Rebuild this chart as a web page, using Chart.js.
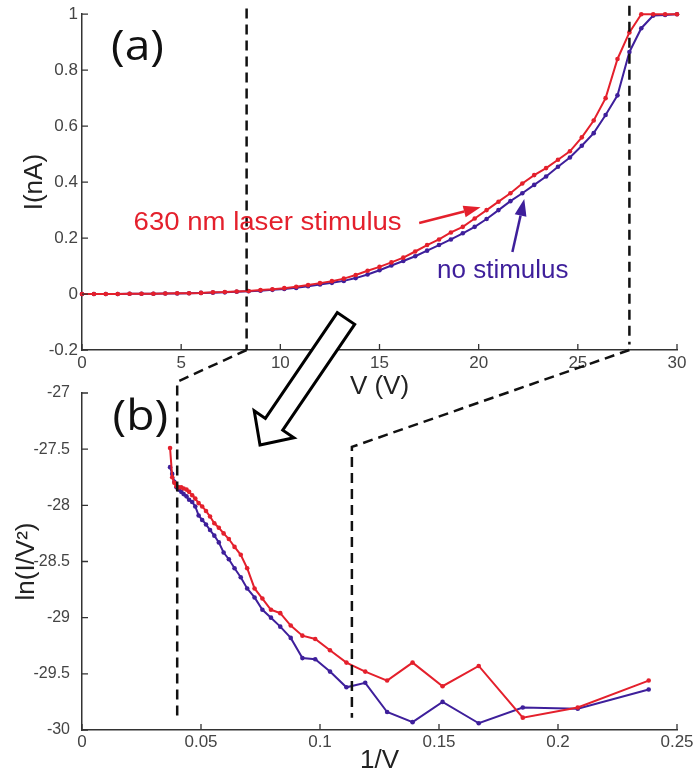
<!DOCTYPE html>
<html>
<head>
<meta charset="utf-8">
<script src="https://cdn.jsdelivr.net/npm/chart.js@4.4.1/dist/chart.umd.min.js"></script>
<style>
  body { margin: 0; background: #fff; }
  #wrap { position: relative; width: 696px; height: 776px; }
  #wrap canvas { position: absolute; left: 0; top: 0; }
</style>
</head>
<body>
<div id="wrap">
  <canvas id="chartA" width="696" height="776"></canvas>
  <canvas id="chartB" width="696" height="776"></canvas>
</div>
<script>
// panel (a): I-V curves
var voltA = [0, 0.6, 1.2, 1.8, 2.4, 3, 3.6, 4.2, 4.8, 5.4, 6, 6.6, 7.2, 7.8, 8.4, 9, 9.6, 10.2, 10.8, 11.4,
    12, 12.6, 13.2, 13.8, 14.4, 15, 15.6, 16.2, 16.8, 17.4, 18, 18.6, 19.2, 19.8, 20.4, 21, 21.6, 22.2, 22.8,
    23.4, 24, 24.6, 25.2, 25.8, 26.4, 27, 27.6, 28.2, 28.8, 29.4, 30];
var laserA = [0, 0, 0, 0, 0.001, 0.001, 0.001, 0.002, 0.003, 0.003, 0.004, 0.006, 0.007, 0.009, 0.011, 0.014,
    0.017, 0.021, 0.026, 0.032, 0.039, 0.046, 0.055, 0.068, 0.083, 0.097, 0.113, 0.130, 0.152, 0.175, 0.195,
    0.220, 0.240, 0.270, 0.300, 0.330, 0.360, 0.395, 0.425, 0.450, 0.480, 0.510, 0.560, 0.620, 0.700, 0.840,
    0.935, 1.000, 1.000, 1.000, 1.000];
var noStimA = [0, 0, 0, 0, 0.001, 0.001, 0.001, 0.002, 0.002, 0.003, 0.004, 0.005, 0.006, 0.008, 0.010, 0.012,
    0.015, 0.018, 0.022, 0.028, 0.034, 0.040, 0.047, 0.057, 0.070, 0.085, 0.102, 0.118, 0.135, 0.155, 0.175,
    0.195, 0.217, 0.240, 0.268, 0.300, 0.332, 0.360, 0.390, 0.420, 0.455, 0.488, 0.530, 0.575, 0.640, 0.710,
    0.865, 0.950, 0.995, 0.997, 1.000];

// panel (b): ln(I/V^2) against 1/V
var invVB = [0.0370, 0.0379, 0.0388, 0.0397, 0.0407, 0.0417, 0.0427, 0.0439, 0.0450, 0.0463, 0.0476, 0.0490,
    0.0505, 0.0521, 0.0538, 0.0556, 0.0575, 0.0595, 0.0617, 0.0641, 0.0667, 0.0694, 0.0725, 0.0758, 0.0794,
    0.0833, 0.0877, 0.0926, 0.0980, 0.1042, 0.1111, 0.1190, 0.1282, 0.1389, 0.1515, 0.1667, 0.1852, 0.2083, 0.2381];
var laserB = [-27.49, -27.75, -27.80, -27.83, -27.84, -27.84, -27.85, -27.86, -27.88, -27.91, -27.94, -27.98,
    -28.01, -28.05, -28.10, -28.16, -28.20, -28.25, -28.30, -28.37, -28.44, -28.56, -28.74, -28.83, -28.93,
    -28.96, -29.07, -29.16, -29.19, -29.29, -29.40, -29.48, -29.56, -29.40, -29.61, -29.43, -29.89, -29.80, -29.56];
var noStimB = [-27.66, -27.72, -27.79, -27.84, -27.86, -27.88, -27.90, -27.92, -27.95, -27.97, -28.01, -28.09,
    -28.13, -28.17, -28.22, -28.27, -28.33, -28.42, -28.48, -28.56, -28.64, -28.74, -28.82, -28.93, -29.00,
    -29.08, -29.18, -29.36, -29.37, -29.48, -29.62, -29.58, -29.84, -29.93, -29.75, -29.94, -29.80, -29.81, -29.64];

var ticksA_x = { min: 0, max: 30, step: 5 };
var ticksA_y = { min: -0.2, max: 1, step: 0.2 };
var ticksB_x = { min: 0, max: 0.25, step: 0.05 };
var ticksB_y = { min: -30, max: -27, step: 0.5 };

var RED = '#e4202c';
var PURPLE = '#3e1f9b';
var SANS = "'Liberation Sans', Arial, sans-serif";

function pts(xs, ys) {
    return xs.map(function(x, i) { return { x: x, y: ys[i] }; });
}

function series(label, xs, ys, color) {
    return {
        label: label,
        data: pts(xs, ys),
        showLine: true,
        clip: 6,
        borderColor: color,
        backgroundColor: color,
        borderWidth: 2,
        pointRadius: 2.3,
        pointBorderWidth: 0,
        pointBackgroundColor: color
    };
}

function fmt(v) { return String(+v.toFixed(3)); }

function axis(lim, opts) {
    return {
        type: 'linear',
        min: lim.min,
        max: lim.max,
        grid: { display: false, drawTicks: false },
        border: { display: true, color: '#333', width: 1.5 },
        ticks: {
            stepSize: lim.step,
            color: '#444',
            padding: opts.pad,
            font: { family: SANS, size: opts.size },
            callback: fmt
        },
        title: {
            display: true,
            text: opts.title,
            color: '#222',
            font: { family: SANS, size: 26 },
            padding: opts.titlePad
        },
        afterFit: opts.fit
    };
}

// ticks point into the plot, matlab style
var inwardTicks = {
    id: 'inwardTicks',
    afterDraw: function(chart) {
        var ctx = chart.ctx, a = chart.chartArea, x = chart.scales.x, y = chart.scales.y;
        ctx.save();
        ctx.strokeStyle = '#333';
        ctx.lineWidth = 1.3;
        ctx.beginPath();
        x.ticks.forEach(function(t) {
            var px = x.getPixelForValue(t.value);
            ctx.moveTo(px, a.bottom); ctx.lineTo(px, a.bottom - 6);
        });
        y.ticks.forEach(function(t) {
            var py = y.getPixelForValue(t.value);
            ctx.moveTo(a.left, py); ctx.lineTo(a.left + 6, py);
        });
        ctx.stroke();
        ctx.restore();
    }
};

function text(ctx, str, px, py, font, color, align, sx) {
    ctx.save();
    ctx.translate(px, py);
    ctx.scale(sx || 1, 1);
    ctx.font = font;
    ctx.fillStyle = color;
    ctx.textAlign = align || 'left';
    ctx.textBaseline = 'alphabetic';
    ctx.fillText(str, 0, 0);
    ctx.restore();
}

function arrow(ctx, x0, y0, x1, y1, color) {
    var ang = Math.atan2(y1 - y0, x1 - x0), len = 17, hw = 6;
    var bx = x1 - Math.cos(ang) * len, by = y1 - Math.sin(ang) * len;
    ctx.save();
    ctx.strokeStyle = color;
    ctx.fillStyle = color;
    ctx.lineWidth = 2.5;
    ctx.beginPath(); ctx.moveTo(x0, y0); ctx.lineTo(bx, by); ctx.stroke();
    ctx.beginPath();
    ctx.moveTo(x1, y1);
    ctx.lineTo(bx - Math.sin(ang) * hw, by + Math.cos(ang) * hw);
    ctx.lineTo(bx + Math.sin(ang) * hw, by - Math.cos(ang) * hw);
    ctx.closePath(); ctx.fill();
    ctx.restore();
}

function dashed(ctx, points) {
    ctx.save();
    ctx.strokeStyle = '#111';
    ctx.lineWidth = 2.5;
    ctx.setLineDash([10, 6]);
    ctx.beginPath();
    points.forEach(function(p, i) { if (i) ctx.lineTo(p[0], p[1]); else ctx.moveTo(p[0], p[1]); });
    ctx.stroke();
    ctx.restore();
}

var notesA = {
    id: 'notesA',
    afterDraw: function(chart) {
        var ctx = chart.ctx, x = chart.scales.x, y = chart.scales.y;
        var X = function(v) { return x.getPixelForValue(v); };
        var Y = function(v) { return y.getPixelForValue(v); };
        dashed(ctx, [[X(8.3), Y(1.02)], [X(8.3), Y(-0.2)]]);
        dashed(ctx, [[X(27.6), Y(1.03)], [X(27.6), Y(-0.18)]]);
        text(ctx, '(a)', X(2.8), Y(0.835), "42px 'Open Sans', sans-serif", '#111', 'center', 1.1);
        text(ctx, '630 nm laser stimulus', X(2.6), Y(0.229), '26px ' + SANS, RED, 'left', 1.06);
        arrow(ctx, X(17.0), Y(0.254), X(20.1), Y(0.31), RED);
        text(ctx, 'no stimulus', X(17.9), Y(0.057), '26px ' + SANS, PURPLE, 'left', 1.0);
        arrow(ctx, X(21.7), Y(0.15), X(22.3), Y(0.34), PURPLE);
    }
};

var notesB = {
    id: 'notesB',
    afterDraw: function(chart) {
        var ctx = chart.ctx, x = chart.scales.x, y = chart.scales.y;
        var ax = chartA.scales.x, ay = chartA.scales.y;
        var X = function(v) { return x.getPixelForValue(v); };
        var Y = function(v) { return y.getPixelForValue(v); };
        // zoom connectors from panel (a) down into panel (b)
        dashed(ctx, [[ax.getPixelForValue(8.3), ay.getPixelForValue(-0.2)], [X(0.04), Y(-26.9)], [X(0.04), Y(-29.89)]]);
        dashed(ctx, [[ax.getPixelForValue(27.6), ay.getPixelForValue(-0.2)], [X(0.1134), Y(-27.48)], [X(0.1134), Y(-29.89)]]);
        text(ctx, '(b)', X(0.0245), Y(-27.33), "42px 'Open Sans', sans-serif", '#111', 'center', 1.1);

        // big hollow arrow
        var T = [260, 445], u = [0.562, -0.827], n = [0.827, 0.562];
        var P = function(l, w) { return [T[0] + u[0] * l + n[0] * w, T[1] + u[1] * l + n[1] * w]; };
        var poly = [P(0, 0), P(25, 24), P(25, 10.5), P(153, 10.5), P(153, -10.5), P(25, -10.5), P(25, -24)];
        ctx.save();
        ctx.beginPath();
        poly.forEach(function(p, i) { if (i) ctx.lineTo(p[0], p[1]); else ctx.moveTo(p[0], p[1]); });
        ctx.closePath();
        ctx.fillStyle = '#fff';
        ctx.fill();
        ctx.strokeStyle = '#000';
        ctx.lineWidth = 3;
        ctx.lineJoin = 'miter';
        ctx.stroke();
        ctx.restore();
    }
};

var common = {
    responsive: false,
    animation: false,
    events: [],
    plugins: { legend: { display: false }, tooltip: { enabled: false } }
};

var chartA = new Chart(document.getElementById('chartA').getContext('2d'), {
    type: 'scatter',
    data: {
        datasets: [
            series('630 nm laser stimulus', voltA, laserA, RED),
            series('no stimulus', voltA, noStimA, PURPLE)
        ]
    },
    options: Object.assign({}, common, {
        layout: { padding: { top: 14, left: 0, right: 19, bottom: 374 } },
        scales: {
            x: axis(ticksA_x, { pad: 3, size: 17, title: 'V (V)', titlePad: { top: 0, bottom: 0 },
                fit: function(s) { s.height = 52; } }),
            y: axis(ticksA_y, { pad: 4, size: 17, title: 'I(nA)', titlePad: { top: 19, bottom: 0 },
                fit: function(s) { s.width = 82; } })
        }
    }),
    plugins: [inwardTicks, notesA]
});

var chartB = new Chart(document.getElementById('chartB').getContext('2d'), {
    type: 'scatter',
    data: {
        datasets: [
            series('630 nm laser stimulus', invVB, laserB, RED),
            series('no stimulus', invVB, noStimB, PURPLE)
        ]
    },
    options: Object.assign({}, common, {
        layout: { padding: { top: 393, left: 0, right: 19, bottom: 0 } },
        scales: {
            x: axis(ticksB_x, { pad: 2, size: 17, title: '1/V', titlePad: { top: 0, bottom: 0 },
                fit: function(s) { s.height = 46; } }),
            y: axis(ticksB_y, { pad: 12, size: 16, title: 'ln(I/V²)', titlePad: { top: 11, bottom: 0 },
                fit: function(s) { s.width = 82; } })
        }
    }),
    plugins: [inwardTicks, notesB]
});
</script>
</body>
</html>
